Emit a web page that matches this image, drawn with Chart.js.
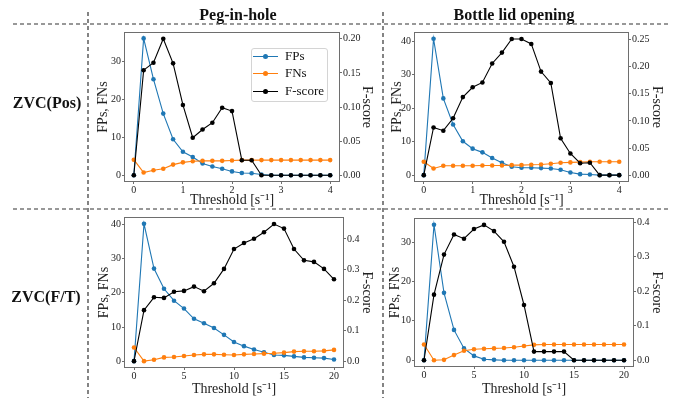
<!DOCTYPE html>
<html>
<head>
<meta charset="utf-8">
<script src="https://cdn.jsdelivr.net/npm/chart.js@4.4.1/dist/chart.umd.min.js"></script>
<style>
  html, body { margin: 0; padding: 0; background: #fff; }
  #page { position: relative; width: 686px; height: 398px; overflow: hidden;
          font-family: 'Liberation Serif', 'Times New Roman', serif; color: #111; }
  #guides { position: absolute; left: 0; top: 0; }
  .panel { position: absolute; }
  .head { position: absolute; font-weight: bold; font-size: 16px; white-space: nowrap;
          transform: translate(-50%, -50%); }
  #legend { position: absolute; left: 251px; top: 48px; width: 77px; height: 54px;
            border: 1px solid #d4d4d4; border-radius: 3px; background: rgba(255,255,255,0.85);
            box-sizing: border-box; }
  .lg-row { position: absolute; left: 0; height: 16px; width: 100%; }
  .lg-line { position: absolute; left: 1px; top: 7px; width: 25px; height: 1.3px; }
  .lg-dot { position: absolute; left: 11px; top: 5px; width: 5px; height: 5px; border-radius: 50%; }
  .lg-text { position: absolute; left: 33px; top: -1px; font-size: 13px; line-height: 16px; }
</style>
</head>
<body>
<div id="page">
  <canvas id="guides" width="686" height="398"></canvas>

  <div class="head" style="left:238px; top:15px;">Peg-in-hole</div>
  <div class="head" style="left:514px; top:15px;">Bottle lid opening</div>
  <div class="head" style="left:47px; top:103px;">ZVC(Pos)</div>
  <div class="head" style="left:46px; top:297px;">ZVC(F/T)</div>

  <canvas class="panel" id="pegPos" width="294" height="184" style="left:89px; top:25px;"></canvas>
  <canvas class="panel" id="bottlePos" width="296" height="184" style="left:384px; top:25px;"></canvas>
  <canvas class="panel" id="pegFt" width="294" height="188" style="left:89px; top:210px;"></canvas>
  <canvas class="panel" id="bottleFt" width="302" height="188" style="left:384px; top:210px;"></canvas>

  <div id="legend"></div>
</div>

<script>
// ============================================
// DATA
// ============================================
const seriesNames = ['FPs', 'FNs', 'F-score'];

// ZVC(Pos): threshold 0 .. 4 in steps of 0.2
const posThresholds = [0, 0.2, 0.4, 0.6, 0.8, 1.0, 1.2, 1.4, 1.6, 1.8, 2.0,
                       2.2, 2.4, 2.6, 2.8, 3.0, 3.2, 3.4, 3.6, 3.8, 4.0];
// ZVC(F/T): threshold 0 .. 20
const ftThresholds = [0, 1, 2, 3, 4, 5, 6, 7, 8, 9, 10,
                      11, 12, 13, 14, 15, 16, 17, 18, 19, 20];

const pegPosFPs = [0, 36.2, 25.4, 16.3, 9.5, 6.2, 4.8, 3.1, 2.3, 1.7, 1.0,
                   0.6, 0.5, 0.2, 0, 0, 0, 0, 0, 0, 0];
const pegPosFNs = [4.1, 0.7, 1.3, 1.7, 2.8, 3.4, 3.7, 3.8, 3.8, 3.8, 3.9,
                   4.0, 4.0, 4.0, 4.0, 4.0, 4.0, 4.0, 4.0, 4.0, 4.0];
const pegPosF = [0, 0.154, 0.165, 0.200, 0.164, 0.103, 0.055, 0.067, 0.077, 0.099, 0.094,
                 0.022, 0.022, 0, 0, 0, 0, 0, 0, 0, 0];

const bottlePosFPs = [0, 40.7, 22.9, 15.1, 10.1, 7.9, 6.8, 5.1, 3.7, 2.5, 2.2,
                      2.2, 2.1, 2.0, 1.6, 0.8, 0.3, 0.2, 0, 0, 0];
const bottlePosFNs = [4.0, 2.0, 2.8, 2.8, 2.8, 2.8, 2.9, 2.9, 2.9, 3.0, 3.0,
                      3.1, 3.2, 3.4, 3.7, 3.8, 3.9, 4.0, 4.0, 4.0, 4.0];
const bottlePosF = [0, 0.088, 0.082, 0.105, 0.144, 0.162, 0.171, 0.206, 0.226, 0.251, 0.251,
                    0.242, 0.191, 0.170, 0.068, 0.040, 0.022, 0.023, 0, 0, 0];

const pegFtFPs = [0, 40.2, 27.1, 21.2, 17.7, 15.4, 12.4, 11.1, 9.7, 7.7, 5.6,
                  4.4, 3.4, 2.6, 1.8, 1.7, 1.4, 1.1, 1.0, 0.9, 0.5];
const pegFtFNs = [4.0, 0, 0.4, 1.1, 1.2, 1.5, 1.8, 2.0, 2.0, 1.9, 1.8,
                  2.0, 2.1, 2.2, 2.3, 2.5, 2.8, 2.9, 2.9, 3.0, 3.3];
const pegFtF = [0, 0.167, 0.209, 0.207, 0.227, 0.230, 0.244, 0.229, 0.255, 0.302, 0.367,
                0.387, 0.401, 0.422, 0.449, 0.434, 0.367, 0.330, 0.325, 0.302, 0.268];

const bottleFtFPs = [0, 34.4, 17.1, 7.7, 3.0, 1.1, 0.25, 0.1, 0, 0, 0,
                     0, 0, 0, 0, 0, 0, 0, 0, 0, 0];
const bottleFtFNs = [4.0, 0, 0.1, 1.3, 2.4, 2.8, 2.9, 3.0, 3.1, 3.3, 3.6,
                     3.9, 4.0, 4.0, 4.0, 4.0, 4.0, 4.0, 4.0, 4.0, 4.0];
const bottleFtF = [0, 0.190, 0.306, 0.364, 0.352, 0.380, 0.392, 0.374, 0.343, 0.271, 0.160,
                   0.025, 0.025, 0.025, 0.025, 0, 0, 0, 0, 0, 0];

// tick labels
const posXTicks = [0, 1, 2, 3, 4];
const ftXTicks = [0, 5, 10, 15, 20];
const countTicks30 = [0, 10, 20, 30];
const countTicks40 = [0, 10, 20, 30, 40];
const fTicks020 = [0, 0.05, 0.10, 0.15, 0.20];
const fTicks025 = [0, 0.05, 0.10, 0.15, 0.20, 0.25];
const fTicks04 = [0, 0.1, 0.2, 0.3, 0.4];

// ============================================
// STYLE
// ============================================
const seriesColors = ['#1f77b4', '#ff7f0e', '#000000'];
const FONT = "'Liberation Serif', 'Times New Roman', serif";
const TEXT = '#222';
const AXIS = '#6e6e6e';

Chart.defaults.font.family = FONT;
Chart.defaults.color = TEXT;

// draws the full box around the plot area (matplotlib spines)
const framePlugin = {
  id: 'frame',
  afterDatasetsDraw(chart) {
    const a = chart.chartArea;
    const ctx = chart.ctx;
    ctx.save();
    ctx.strokeStyle = AXIS;
    ctx.lineWidth = 1;
    ctx.strokeRect(Math.round(a.left) + 0.5, Math.round(a.top) + 0.5,
                   Math.round(a.right - a.left) - 1, Math.round(a.bottom - a.top) - 1);
    ctx.restore();
  }
};

function toPoints(xs, ys) {
  return xs.map((x, i) => ({ x: x, y: ys[i] }));
}

function fixedTicks(values) {
  return scale => { scale.ticks = values.map(v => ({ value: v })); };
}

function lineSet(name, idx, points, axis, order) {
  return {
    label: name,
    data: points,
    yAxisID: axis,
    borderColor: seriesColors[idx],
    backgroundColor: seriesColors[idx],
    pointBackgroundColor: seriesColors[idx],
    pointBorderWidth: 0,
    borderWidth: 1.1,
    pointRadius: 2.3,
    tension: 0,
    order: order
  };
}

/**
 * Build one dual-axis panel. Box sizes are fixed so the plot areas line up
 * with the reference grid.
 */
function makePanel(id, p) {
  const ctx = document.getElementById(id).getContext('2d');
  return new Chart(ctx, {
    type: 'line',
    data: {
      datasets: [
        lineSet(seriesNames[2], 2, toPoints(p.xs, p.f), 'yF', 0),
        lineSet(seriesNames[1], 1, toPoints(p.xs, p.fns), 'y', 1),
        lineSet(seriesNames[0], 0, toPoints(p.xs, p.fps), 'y', 2)
      ]
    },
    options: {
      responsive: false,
      animation: false,
      events: [],
      layout: { autoPadding: false, padding: { top: p.padTop, left: 0, right: 0, bottom: 0 } },
      plugins: { legend: { display: false }, tooltip: { enabled: false } },
      scales: {
        x: {
          type: 'linear',
          position: 'bottom',
          min: p.xMin, max: p.xMax,
          afterBuildTicks: fixedTicks(p.xTicks),
          afterFit: s => { s.height = p.xH; },
          border: { display: false },
          grid: { drawOnChartArea: false, drawTicks: true, tickLength: 2, color: AXIS },
          ticks: { font: { size: 10 }, padding: 0, maxRotation: 0, color: TEXT },
          title: { display: true, text: 'Threshold [s\u207B\u00B9]', font: { size: 14 },
                   padding: { top: 0, bottom: 0 }, color: TEXT }
        },
        y: {
          type: 'linear',
          position: 'left',
          min: p.yMin, max: p.yMax,
          afterBuildTicks: fixedTicks(p.yTicks),
          afterFit: s => { s.width = p.leftW; },
          border: { display: false },
          grid: { drawOnChartArea: false, drawTicks: true, tickLength: 2, color: AXIS },
          ticks: { font: { size: 10 }, padding: 1, color: TEXT },
          title: { display: true, text: 'FPs, FNs', font: { size: 14 },
                   padding: { top: p.leftTitlePad, bottom: 0 }, color: TEXT }
        },
        yF: {
          type: 'linear',
          position: 'right',
          min: p.fMin, max: p.fMax,
          afterBuildTicks: fixedTicks(p.fTicks),
          afterFit: s => { s.width = p.rightW; },
          border: { display: false },
          grid: { drawOnChartArea: false, drawTicks: true, tickLength: 2, color: AXIS },
          ticks: { font: { size: 10 }, padding: 1, color: TEXT,
                   callback: v => Number(v).toFixed(p.fDigits) },
          title: { display: true, text: 'F-score', font: { size: 14 },
                   padding: { top: p.rightTitlePad, bottom: 0 }, color: TEXT }
        }
      }
    },
    plugins: [framePlugin]
  });
}

// ============================================
// PANELS
// ============================================
makePanel('pegPos', {
  xs: posThresholds, fps: pegPosFPs, fns: pegPosFNs, f: pegPosF,
  xMin: -0.2, xMax: 4.2, xTicks: posXTicks,
  yMin: -1.8, yMax: 37.9, yTicks: countTicks30,
  fMin: -0.01, fMax: 0.21, fTicks: fTicks020, fDigits: 2,
  padTop: 5, xH: 27, leftW: 35, rightW: 43, leftTitlePad: 5.6, rightTitlePad: 7.6
});

makePanel('bottlePos', {
  xs: posThresholds, fps: bottlePosFPs, fns: bottlePosFNs, f: bottlePosF,
  xMin: -0.2, xMax: 4.2, xTicks: posXTicks,
  yMin: -2.04, yMax: 42.7, yTicks: countTicks40,
  fMin: -0.0126, fMax: 0.264, fTicks: fTicks025, fDigits: 2,
  padTop: 5, xH: 27, leftW: 30, rightW: 51, leftTitlePad: 4.6, rightTitlePad: 14.6
});

makePanel('pegFt', {
  xs: ftThresholds, fps: pegFtFPs, fns: pegFtFNs, f: pegFtF,
  xMin: -1, xMax: 21, xTicks: ftXTicks,
  yMin: -2.0, yMax: 42.2, yTicks: countTicks40,
  fMin: -0.0225, fMax: 0.472, fTicks: fTicks04, fDigits: 1,
  padTop: 7, xH: 30, leftW: 35, rightW: 39, leftTitlePad: 6.6, rightTitlePad: 7.6
});

makePanel('bottleFt', {
  xs: ftThresholds, fps: bottleFtFPs, fns: bottleFtFNs, f: bottleFtF,
  xMin: -1, xMax: 21, xTicks: ftXTicks,
  yMin: -1.72, yMax: 36.1, yTicks: countTicks30,
  fMin: -0.0196, fMax: 0.412, fTicks: fTicks04, fDigits: 1,
  padTop: 8, xH: 31, leftW: 30, rightW: 52, leftTitlePad: 2.6, rightTitlePad: 20.6
});

// ============================================
// LEGEND (top-left panel)
// ============================================
const legendEl = document.getElementById('legend');
const legendRowTops = [0, 17, 35];
seriesNames.forEach((name, i) => {
  const row = document.createElement('div');
  row.className = 'lg-row';
  row.style.top = legendRowTops[i] + 'px';
  row.innerHTML =
    '<div class="lg-line" style="background:' + seriesColors[i] + '"></div>' +
    '<div class="lg-dot" style="background:' + seriesColors[i] + '"></div>' +
    '<div class="lg-text">' + name + '</div>';
  legendEl.appendChild(row);
});

// ============================================
// DASHED SEPARATORS
// ============================================
const g = document.getElementById('guides').getContext('2d');
g.strokeStyle = '#333';
g.lineWidth = 1.2;
g.setLineDash([4, 3]);
[[13, 24, 668, 24], [13, 209, 668, 209], [88, 12, 88, 398], [383, 12, 383, 398]]
  .forEach(([x1, y1, x2, y2]) => {
    g.beginPath();
    g.moveTo(x1, y1);
    g.lineTo(x2, y2);
    g.stroke();
  });
</script>
</body>
</html>
